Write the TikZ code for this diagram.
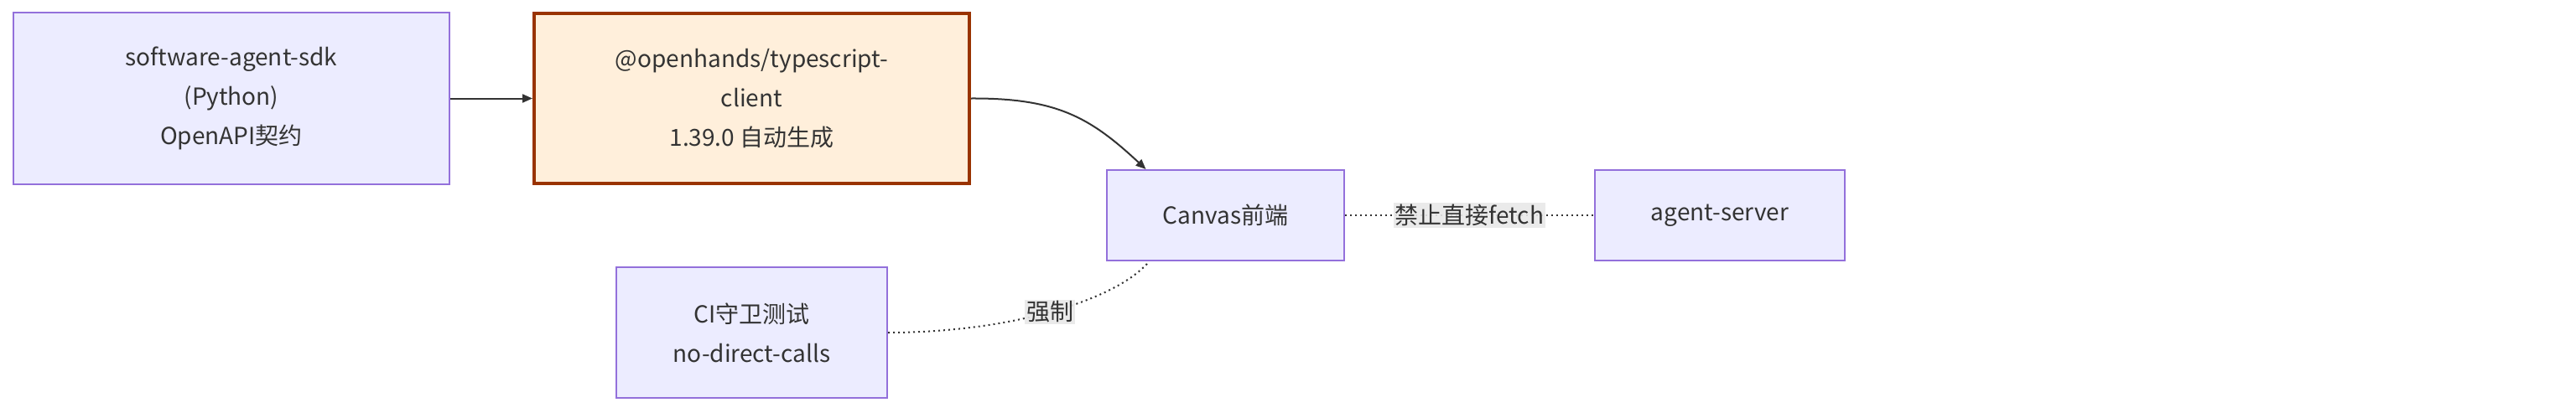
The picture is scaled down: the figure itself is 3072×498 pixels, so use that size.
\documentclass[tikz,border=0pt]{standalone}
\usepackage{fontspec}
\setmainfont{Noto Sans CJK SC}
\usetikzlibrary{arrows.meta}
\definecolor{boxfill}{HTML}{ECECFF}
\definecolor{boxline}{HTML}{9370DB}
\definecolor{genfill}{HTML}{FFEFDB}
\definecolor{genline}{HTML}{993300}
\definecolor{ink}{HTML}{333333}
\definecolor{lblfill}{HTML}{E8E8E8}
\tikzset{
    every node/.style={font=\fontsize{14pt}{23.5pt}\selectfont, text=ink, align=center, inner sep=0mm}
}
\tikzset{box/.style={rectangle, draw=boxline, fill=boxfill, line width=1pt}}
\tikzset{gen/.style={rectangle, draw=genline, fill=genfill, line width=2pt}}
\tikzset{lbl/.style={fill=lblfill, fill opacity=.9, text opacity=1, inner sep=1pt}}
\tikzset{link/.style={draw=ink, line width=1pt}}

\begin{document}
\begin{tikzpicture}[x=0.5pt, y=-0.5pt]
    \useasboundingbox (0,0) rectangle (3072,498);

    \node (sdk) at (276, 117.5) [box, minimum width=260pt, minimum height=102.5pt] {software-agent-sdk\\(Python)\\OpenAPI契约};
    \node (ts) at (896.5, 117.5) [gen, minimum width=259.5pt, minimum height=101.5pt] {@openhands/typescript-\\client\\1.39.0 自动生成};
    \node (canvas) at (1461.5, 257) [box, minimum width=141.5pt, minimum height=54pt] {Canvas前端};
    \node (server) at (2051, 257) [box, minimum width=149pt, minimum height=54pt] {agent-server};
    \node (ci) at (896.5, 397) [box, minimum width=161.5pt, minimum height=78pt] {CI守卫测试\\no-direct-calls};

    \draw[link, -{Triangle[length=6pt, width=5pt]}] (sdk) -- (ts);
    \draw[link, -{Triangle[length=6pt, width=5pt]}] (ts.east) .. controls (1260,117) and (1300,140) .. ([xshift=-47.5pt]canvas.north);

    \draw[link, dotted] (canvas) -- node[lbl] {禁止直接fetch} (server);
    \draw[link, dotted] (ci.east) .. controls (1200,397) and (1330,360) .. node[lbl, pos=.5] {强制} ([xshift=-45.5pt]canvas.south);
\end{tikzpicture}
\end{document}
